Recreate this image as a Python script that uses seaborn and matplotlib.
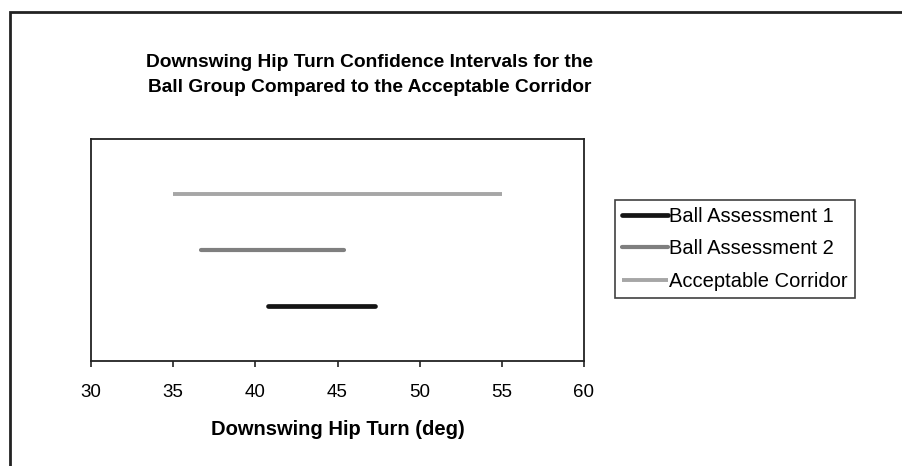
"""
Downswing hip turn confidence intervals for the ball group,
drawn against the acceptable corridor.
"""

import matplotlib
matplotlib.use("Agg")

import matplotlib.pyplot as plt
import pandas as pd
import seaborn as sns
from matplotlib.patches import Rectangle

# interval data (deg)
series_names = ["Ball Assessment 1", "Ball Assessment 2", "Acceptable Corridor"]
lower_bounds = [40.8, 36.7, 35.0]
upper_bounds = [47.3, 45.4, 55.0]
row_levels = [1, 2, 3]

x_ticks = [30, 35, 40, 45, 50, 55, 60]

line_colors = {
    "Ball Assessment 1": "#141414",
    "Ball Assessment 2": "#7f7f7f",
    "Acceptable Corridor": "#a6a6a6",
}
line_widths = {
    "Ball Assessment 1": 3.4,
    "Ball Assessment 2": 3.0,
    "Acceptable Corridor": 2.8,
}

rows = []
for name, lo, hi, level in zip(series_names, lower_bounds, upper_bounds, row_levels):
    rows.append({"series": name, "hip_turn": lo, "level": level})
    rows.append({"series": name, "hip_turn": hi, "level": level})
intervals = pd.DataFrame(rows)

sns.set_style("white")
plt.rcParams["font.family"] = ["Liberation Sans", "DejaVu Sans"]
plt.rcParams["text.color"] = "black"
plt.rcParams["xtick.color"] = "black"
plt.rcParams["axes.labelcolor"] = "black"

fig = plt.figure(figsize=(9.02, 4.66), dpi=100)
ax = fig.add_axes([91 / 902, 105 / 466, 493 / 902, 222 / 466])

for name in series_names:
    sns.lineplot(
        data=intervals[intervals["series"] == name],
        x="hip_turn",
        y="level",
        color=line_colors[name],
        linewidth=line_widths[name],
        solid_capstyle="round" if name != "Acceptable Corridor" else "butt",
        estimator=None,
        sort=False,
        label=name,
        ax=ax,
    )

ax.set_xlim(30, 60)
ax.set_ylim(0, 4)
ax.set_xticks(x_ticks)
ax.set_yticks([])
ax.set_ylabel("")
ax.set_xlabel("Downswing Hip Turn (deg)", fontsize=14.5, fontweight="bold", labelpad=13.5)
ax.tick_params(axis="x", direction="out", length=4.5, width=1.2, color="#222222",
               labelsize=13.5, pad=12, bottom=True)

for spine in ax.spines.values():
    spine.set_visible(True)
    spine.set_color("#222222")
    spine.set_linewidth(1.3)

ax.legend(
    loc="upper left",
    bbox_to_anchor=(615 / 902, 1 - 200 / 466),
    bbox_transform=fig.transFigure,
    borderaxespad=0,
    fontsize=14.5,
    frameon=True,
    fancybox=False,
    edgecolor="#111111",
    handlelength=2.3,
    handletextpad=0.05,
    labelspacing=0.66,
    borderpad=0.35,
)
ax.get_legend().get_frame().set_linewidth(1.2)

fig.text(
    370 / 902,
    1 - 75 / 466,
    "Downswing Hip Turn Confidence Intervals for the\nBall Group Compared to the Acceptable Corridor",
    ha="center",
    va="center",
    fontsize=13.8,
    fontweight="bold",
    linespacing=1.65,
)

# outer chart border (only left and top edges sit inside the image)
fig.patches.append(
    Rectangle((10 / 902, -0.1), 1.2, 1 - 12 / 466 + 0.1, transform=fig.transFigure,
              fill=False, edgecolor="#222222", linewidth=2.0)
)

fig.savefig("out.png", dpi=100)
